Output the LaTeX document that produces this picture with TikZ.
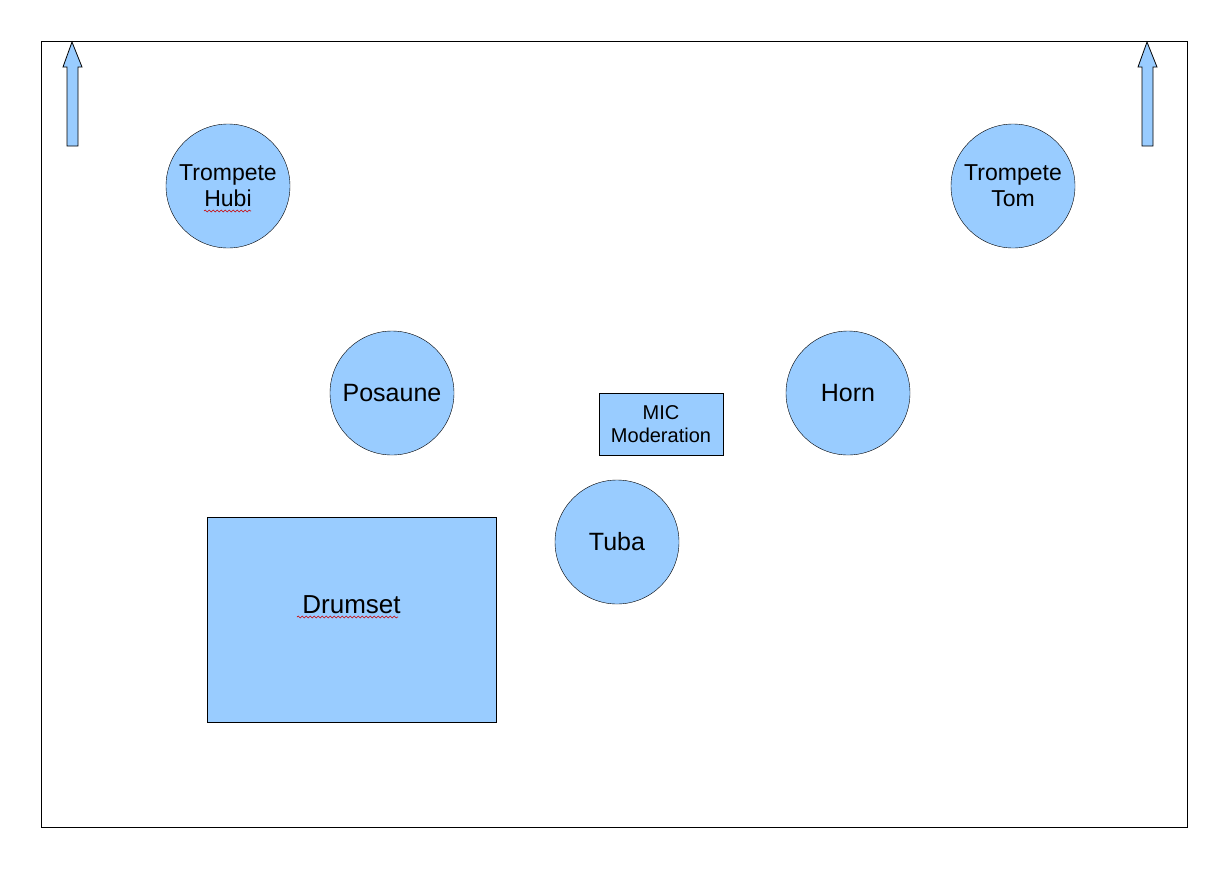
\documentclass[tikz,border=0pt]{standalone}
\usepackage{fontspec}
\setmainfont{Liberation Sans}
\usepackage{tikz}
\usetikzlibrary{decorations.pathmorphing}
\definecolor{stageblue}{HTML}{99CCFF}

\begin{document}
\begin{tikzpicture}[x=1pt,y=-1pt,
  player/.style={circle,draw=black,fill=stageblue,minimum size=124pt,inner sep=0pt,align=center,font=\fontsize{23}{26}\selectfont},
  box/.style={rectangle,draw=black,fill=stageblue,inner sep=0pt,align=center},
  squiggle/.style={red!80!black,line width=0.6pt,decorate,decoration={snake,amplitude=0.9pt,segment length=4pt}}]
  \useasboundingbox (0,0) rectangle (1228,868);
  \fill[white] (0,0) rectangle (1228,868);
  % stage
  \draw[line width=0.8pt] (41,41) rectangle (1187,827);
  % arrows to the front
  \draw[line width=0.8pt,fill=stageblue] (67,146) -- (67,67) -- (63,67) -- (72,42) -- (82,67) -- (78,67) -- (78,146) -- cycle;
  \draw[line width=0.8pt,fill=stageblue] (1142,146) -- (1142,67) -- (1138,67) -- (1147,42) -- (1157,67) -- (1153,67) -- (1153,146) -- cycle;
  % trumpets
  \node[player] (hubi) at (228,186) {Trompete\\Hubi};
  \node[player] (tom) at (1013,186) {Trompete\\Tom};
  % middle row
  \node[player,font=\fontsize{25}{28}\selectfont] (posaune) at (392,393) {Posaune};
  \node[player,font=\fontsize{25}{28}\selectfont] (horn) at (848,393) {Horn};
  \node[box,minimum width=124pt,minimum height=62pt,font=\fontsize{20}{23}\selectfont] (mic) at (661,424) {MIC\\Moderation};
  % back row
  \node[player,font=\fontsize{25}{28}\selectfont] (tuba) at (617,542) {Tuba};
  \node[box,minimum width=289pt,minimum height=205pt] (drums) at (351.5,619.5) {};
  \node[font=\fontsize{26}{30}\selectfont,inner sep=0pt] (drumlabel) at ([yshift=15pt]drums.center) {Drumset};
  % spell check marks
  \draw[squiggle] (204,211) -- (251,211);
  \draw[squiggle] (297,617) -- (398,617);
\end{tikzpicture}
\end{document}
